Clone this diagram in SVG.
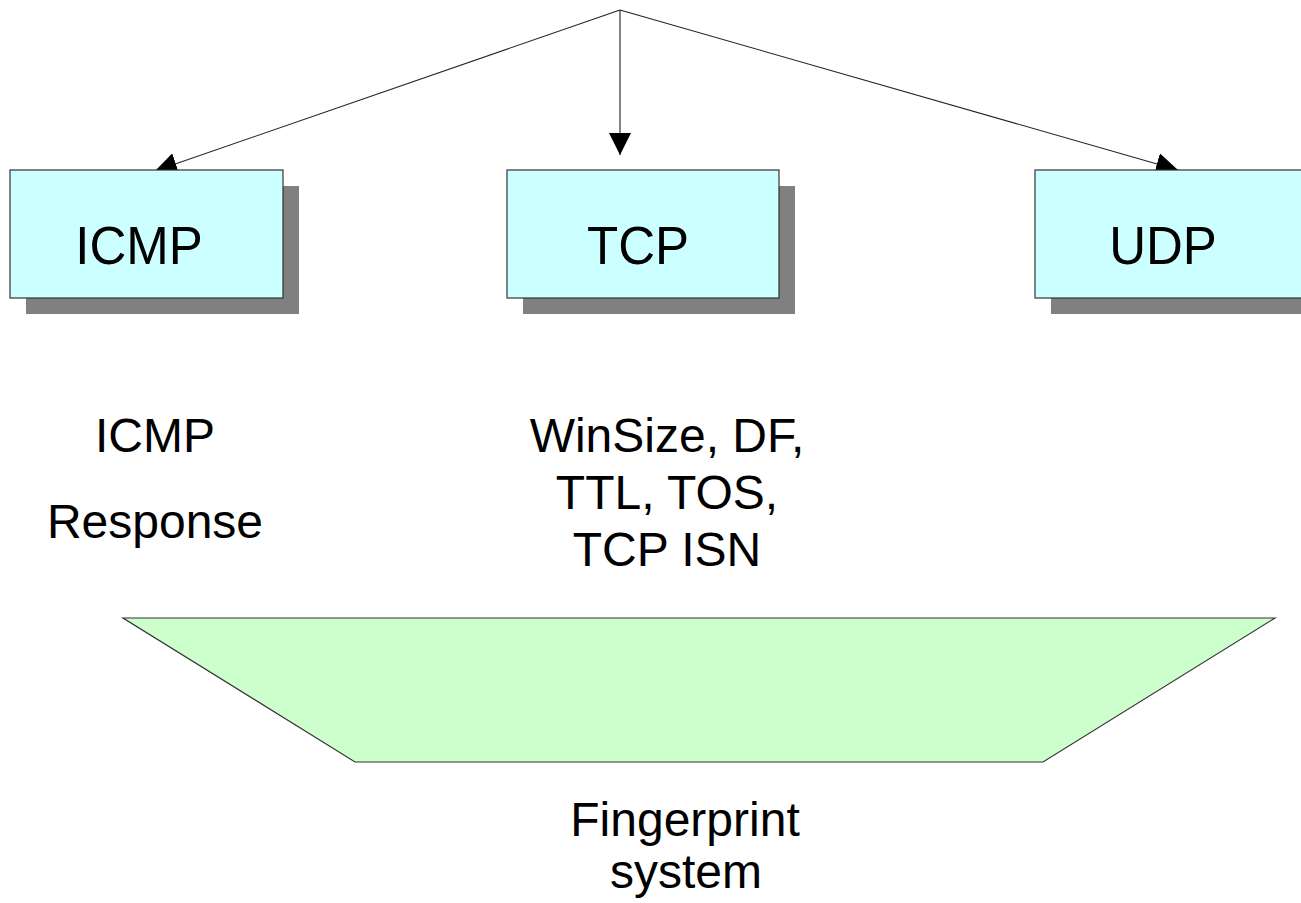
<svg xmlns="http://www.w3.org/2000/svg" width="1301" height="903" viewBox="0 0 1301 903">
  <style>
    .box { fill: #ccffff; stroke: #333333; stroke-width: 1.2; }
    .shadow { fill: #808080; }
    .proto { font-family: "Liberation Sans", Arial, sans-serif; font-size: 51px; fill: #000; text-anchor: middle; }
    .label { font-family: "Liberation Sans", Arial, sans-serif; font-size: 48px; fill: #000; text-anchor: middle; }
    .link { fill: none; stroke: #222222; stroke-width: 1.1; marker-end: url(#head); }
    .base { fill: #ccffcc; stroke: #333333; stroke-width: 1.2; }
  </style>
  <defs>
    <marker id="head" markerUnits="userSpaceOnUse" markerWidth="22" markerHeight="22" viewBox="0 0 20 20" refX="20" refY="10" orient="auto">
      <path d="M0,0 L20,10 L0,20 Z" fill="#000"/>
    </marker>
  </defs>

  <rect width="1301" height="903" fill="#ffffff"/>

  <!-- connectors from the common source point -->
  <g id="connectors">
    <line class="link" x1="620" y1="10" x2="155" y2="171"/>
    <line class="link" x1="620" y1="10" x2="620" y2="155"/>
    <line class="link" x1="620" y1="10" x2="1178" y2="170"/>
  </g>

  <!-- protocol boxes: drop shadow, face, slightly tall lettering -->
  <g id="node-icmp">
    <rect class="shadow" x="26" y="186" width="273" height="128"/>
    <rect class="box" x="10" y="170" width="273" height="128"/>
    <text class="proto" transform="translate(139,264) scale(1,1.07)">ICMP</text>
  </g>

  <g id="node-tcp">
    <rect class="shadow" x="523" y="186" width="272" height="128"/>
    <rect class="box" x="507" y="170" width="272" height="128"/>
    <text class="proto" transform="translate(638,264) scale(1,1.07)">TCP</text>
  </g>

  <g id="node-udp">
    <rect class="shadow" x="1051" y="186" width="273" height="128"/>
    <rect class="box" x="1035" y="170" width="273" height="128"/>
    <text class="proto" transform="translate(1163,264) scale(1,1.07)">UDP</text>
  </g>

  <g id="label-icmp">
    <text class="label" x="155" y="452">ICMP</text>
    <text class="label" x="155" y="538">Response</text>
  </g>

  <g id="label-tcp">
    <text class="label" x="667" y="452">WinSize, DF,</text>
    <text class="label" x="667" y="509">TTL, TOS,</text>
    <text class="label" x="667" y="566">TCP ISN</text>
  </g>

  <g id="node-fingerprint">
    <polygon class="base" points="123,618 1275,618 1043,762 355,762"/>
    <text class="label" x="685" y="836">Fingerprint</text>
    <text class="label" x="686" y="888">system</text>
  </g>
</svg>
